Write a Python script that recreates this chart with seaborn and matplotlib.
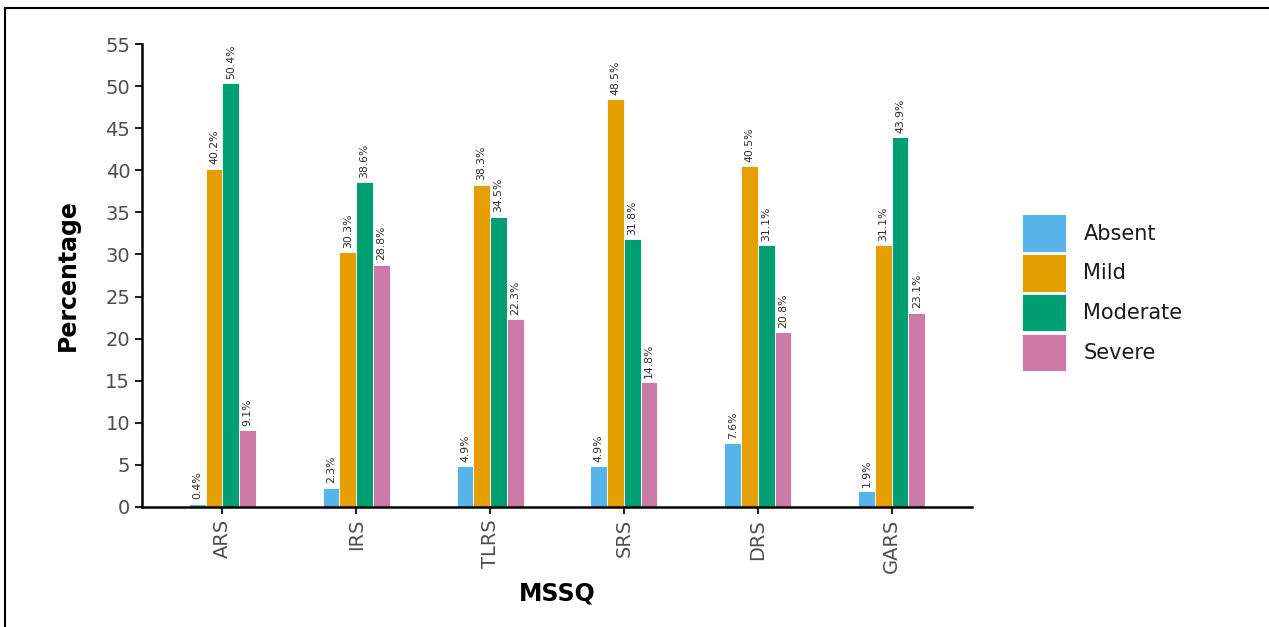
import numpy as np
import pandas as pd
import matplotlib
matplotlib.use("Agg")
import matplotlib.pyplot as plt
from matplotlib.lines import Line2D
import seaborn as sns

sns.set_style("ticks")
plt.rcParams['font.family'] = ['DejaVu Sans']

# data
scales = ["ARS", "IRS", "TLRS", "SRS", "DRS", "GARS"]
levels = ["Absent", "Mild", "Moderate", "Severe"]
absent = [0.4, 2.3, 4.9, 4.9, 7.6, 1.9]
mild = [40.2, 30.3, 38.3, 48.5, 40.5, 31.1]
moderate = [50.4, 38.6, 34.5, 31.8, 31.1, 43.9]
severe = [9.1, 28.8, 22.3, 14.8, 20.8, 23.1]
colors = ["#56B4E9", "#E69F00", "#009E73", "#CC79A7"]

rows = []
for lvl, vals in zip(levels, [absent, mild, moderate, severe]):
    for s, v in zip(scales, vals):
        rows.append({"MSSQ": s, "Level": lvl, "Percentage": v})
df = pd.DataFrame(rows)

fig = plt.figure(figsize=(12.69, 6.27), dpi=100)
ax = fig.add_axes([142 / 1269, 120 / 627, 830 / 1269, 463 / 627])

sns.barplot(data=df, x="MSSQ", y="Percentage", hue="Level", order=scales,
            hue_order=levels, palette=colors, width=0.5, gap=0,
            saturation=1, edgecolor="white", linewidth=0.6, ax=ax)

for c in ax.containers:
    ax.bar_label(c, labels=[f"{v:.1f}%" for v in c.datavalues],
                 rotation=90, padding=3, fontsize=7.8, color="#2b2b2b")

ax.set_ylim(0, 55)
ax.set_xlim(-0.6, 5.6)
ax.set_yticks(np.arange(0, 56, 5))
ax.tick_params(axis="both", colors="#222222", length=5, width=1.5,
               labelcolor="#4D4D4D", labelsize=14)
ax.tick_params(axis="x", labelrotation=90)
for sp in ["top", "right"]:
    ax.spines[sp].set_visible(False)
for sp in ["left", "bottom"]:
    ax.spines[sp].set_linewidth(1.8)
    ax.spines[sp].set_color("black")

ax.set_xlabel("MSSQ", fontsize=17, fontweight="bold", labelpad=6,
              color="black")
ax.set_ylabel("Percentage", fontsize=17, fontweight="bold", labelpad=18,
              color="black")

leg = ax.legend(loc="center left", bbox_to_anchor=(1022 / 1269, 0.533),
                bbox_transform=fig.transFigure, frameon=False, fontsize=15,
                title=None, handlelength=2.1, handleheight=2.4,
                labelspacing=0.1, handletextpad=0.85, borderpad=0,
                borderaxespad=0)
for t in leg.get_texts():
    t.set_color("#1a1a1a")

# screenshot frame on the top and left edges
fig.add_artist(Line2D([5 / 1269, 1], [1 - 8 / 627, 1 - 8 / 627],
                      color="black", linewidth=1.5, transform=fig.transFigure))
fig.add_artist(Line2D([5 / 1269, 5 / 1269], [0, 1 - 8 / 627],
                      color="black", linewidth=1.5, transform=fig.transFigure))

fig.savefig("out.png", dpi=100)
